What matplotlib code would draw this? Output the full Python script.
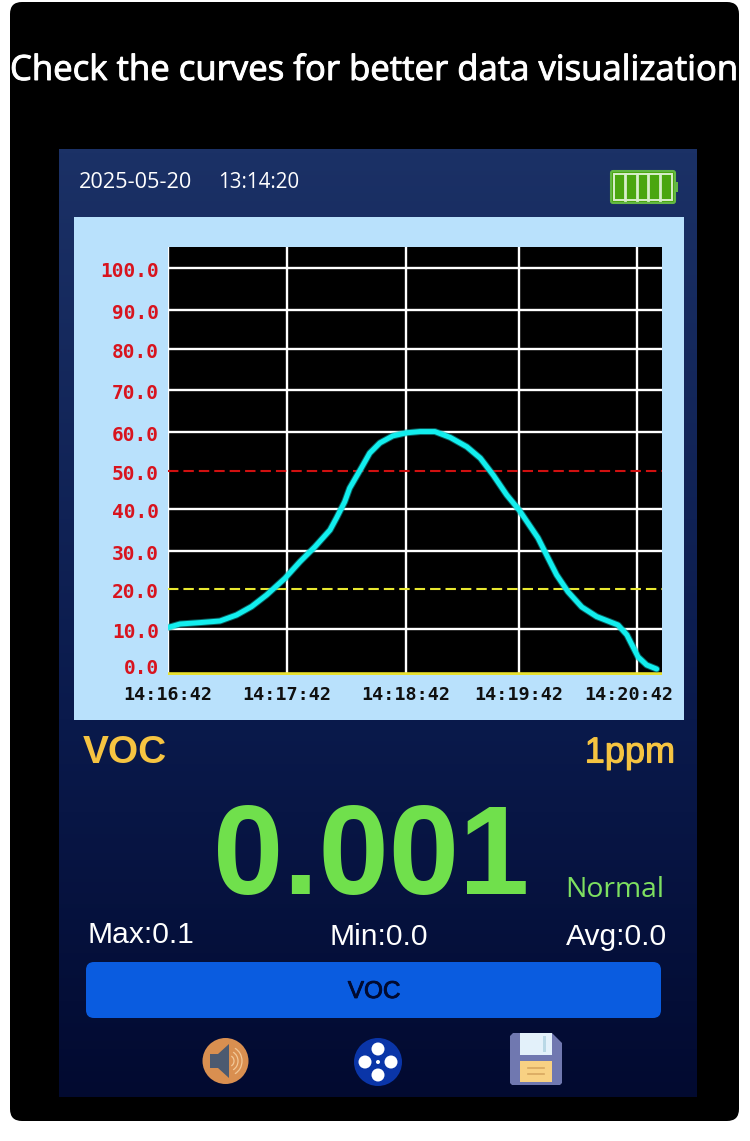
"""VOC meter screen with a concentration curve."""

import matplotlib
matplotlib.use("Agg")
import matplotlib.pyplot as plt
import matplotlib.patheffects as pe
import numpy as np
from matplotlib.patches import Circle, FancyBboxPatch, Polygon, Rectangle, Arc
from matplotlib.transforms import ScaledTranslation

W, H = 750, 1141

# curve
TIME_S = [0.15, 6.1, 16.2, 26.3, 34.7, 42.3, 49.9, 59.2, 66.8, 74.3, 81.9, 85.2, 89.3,
          91.8, 97.7, 101.9, 107, 113.5, 120.5, 127.7, 135.5, 143.6, 152.4, 159.5,
          166.4, 173.5, 180, 189.7, 194.1, 199.2, 205, 212, 219.6, 230.5, 235,
          240.7, 245.1, 250.2]
VOC = [10.4, 11.25, 11.6, 12, 13.5, 15.6, 18.5, 22.8, 27.2, 31, 35, 37.9, 41.9,
       45.5, 50.8, 54.6, 57.2, 59, 59.8, 60.1, 60.1, 58.6, 56.2, 53.3,
       48.9, 43.7, 39.8, 33.1, 28.9, 23.7, 19.3, 15.5, 13.1, 11, 8.7,
       3.8, 2, 1.1]

Y_TICKS = [0, 10, 20, 30, 40, 50, 60, 70, 80, 90, 100]
Y_LABELS = ["0.0", "10.0", "20.0", "30.0", "40.0", "50.0", "60.0", "70.0", "80.0", "90.0", "100.0"]
X_TICKS = [0, 60, 120, 180, 240]
X_LABELS = ["14:16:42", "14:17:42", "14:18:42", "14:19:42", "14:20:42"]
ALARM_HIGH = 50
ALARM_LOW = 20

# the screen's axes are not evenly spaced, so map values to pixel rows and columns
Y_SCALE_VALUES = [-0.2, 0, 10, 20, 30, 40, 50, 60, 70, 80, 90, 100, 105]
Y_SCALE_PIXELS = [675, 674, 629, 589, 551, 509, 471, 432, 390, 349, 310, 268, 247]
X_SCALE_VALUES = [0, 60, 120, 180, 240, 252.7]
X_SCALE_PIXELS = [168, 286.5, 405.7, 519, 636.7, 661.6]

SANS = "Liberation Sans"
HUMAN = "Open Sans"
MONO = "DejaVu Sans Mono"


def y_forward(v):
    return -np.interp(v, Y_SCALE_VALUES, Y_SCALE_PIXELS)


def y_inverse(p):
    return np.interp(-np.asarray(p), Y_SCALE_PIXELS[::-1], Y_SCALE_VALUES[::-1])


def x_forward(v):
    return np.interp(v, X_SCALE_VALUES, X_SCALE_PIXELS)


def x_inverse(p):
    return np.interp(p, X_SCALE_PIXELS, X_SCALE_VALUES)


def rounded(ax, x0, y0, x1, y1, r, **kw):
    ax.add_patch(FancyBboxPatch((x0 + r, y0 + r), x1 - x0 - 2 * r, y1 - y0 - 2 * r,
                                boxstyle=f"round,pad={r},rounding_size={r}", **kw))


def heavier(text, width, color):
    text.set_path_effects([pe.withStroke(linewidth=width, foreground=color, joinstyle="miter")])


def draw_screen(bg):
    rounded(bg, 10, 2, 739, 1121, 12, fc="black", ec="none", zorder=1)
    title = bg.text(374.5, 71, "Check the curves for better data visualization", color="white",
                    fontsize=25, family=HUMAN, ha="center", va="center", zorder=3)
    heavier(title, 0.7, "white")

    grad = np.linspace(0, 1, 256)[:, None, None]
    top = np.array([0x1b, 0x31, 0x66]) / 255
    mid = np.array([0x0a, 0x1a, 0x4c]) / 255
    low = np.array([0x02, 0x0a, 0x30]) / 255
    img = np.where(grad < 0.6, top + (mid - top) * grad / 0.6, mid + (low - mid) * (grad - 0.6) / 0.4)
    bg.imshow(img, extent=(59, 697, 1097, 149), aspect="auto", zorder=2)
    bg.set_xlim(0, W)
    bg.set_ylim(H, 0)

    bg.text(79, 182, "2025-05-20", color="white", fontsize=15.6, family=HUMAN, va="center", zorder=3)
    bg.text(218, 182, "13:14:20", color="white", fontsize=14.8, family=HUMAN, va="center", zorder=3)

    # battery
    rounded(bg, 611, 171, 675, 203, 2, fc="#4aa60f", ec="#63b844", lw=1.5, zorder=3)
    bg.add_patch(Rectangle((675, 182), 3, 10, fc="#63b844", ec="none", zorder=3))
    bg.add_patch(Rectangle((614, 174), 58, 26, fc="none", ec="#d8eecb", lw=1.4, zorder=4))
    for x in (625, 637, 648, 660):
        bg.plot([x, x], [174, 200], color="#d8eecb", lw=2, zorder=4)

    bg.add_patch(Rectangle((74, 217), 610, 503, fc="#b9e1fc", ec="none", zorder=3))

    bg.text(83, 753, "VOC", color="#f6c441", fontsize=28, family=SANS, weight="bold", va="center", zorder=3)
    unit = bg.text(675, 753, "1ppm", color="#f6c441", fontsize=26, family=SANS, ha="right", va="center",
                   zorder=3)
    heavier(unit, 0.8, "#f6c441")
    bg.text(371, 894, "0.001", color="#70e04c", fontsize=91, family=SANS, weight="bold", ha="center",
            va="baseline", zorder=3)
    bg.text(565, 897, "Normal", color="#7ee060", fontsize=20.4, family=HUMAN, va="baseline", zorder=3)
    bg.text(87, 935, "Max:0.1", color="white", fontsize=21.6, family=SANS, va="center", zorder=3)
    bg.text(379, 937, "Min:0.0", color="white", fontsize=21.6, family=SANS, ha="center", va="center", zorder=3)
    bg.text(667, 937, "Avg:0.0", color="white", fontsize=21.6, family=SANS, ha="right", va="center", zorder=3)

    rounded(bg, 86, 962, 661, 1018, 8, fc="#0a5ce0", ec="none", zorder=3)
    label = bg.text(374, 992, "VOC", color="#010a30", fontsize=17.5, family=SANS, ha="center", va="center",
                    zorder=4)
    heavier(label, 0.6, "#010a30")

    # speaker icon
    bg.add_patch(Circle((225.5, 1061), 23, fc="#d98f50", ec="none", zorder=3))
    bg.add_patch(Polygon([(210, 1054), (218, 1054), (229, 1044), (229, 1078), (218, 1068), (210, 1068)],
                         fc="#4c5a70", ec="none", zorder=4))
    for d in (10, 18, 26):
        bg.add_patch(Arc((229, 1061), d, d * 1.1, theta1=-65, theta2=65, ec="#f2c898", lw=0.9, zorder=4))

    # menu icon
    bg.add_patch(Circle((378, 1062), 24, fc="#0a35a8", ec="none", zorder=3))
    for dx, dy in ((0, -13), (0, 13), (-13, 0), (13, 0)):
        bg.add_patch(Circle((378 + dx, 1062 + dy), 6.5, fc="white", ec="none", zorder=4))
    bg.add_patch(Circle((378, 1062), 2, fc="white", ec="none", zorder=4))

    # floppy icon
    bg.add_patch(Polygon([(510, 1036), (513, 1033), (552, 1033), (562, 1043), (562, 1083), (560, 1085),
                          (512, 1085), (510, 1083)], fc="#7078b0", ec="none", zorder=3))
    bg.add_patch(Rectangle((520, 1033), 32, 22, fc="#e3f1fa", ec="none", zorder=4))
    bg.add_patch(Rectangle((543, 1036), 3, 16, fc="#b9d8e6", ec="none", zorder=5))
    bg.add_patch(Rectangle((520, 1061), 32, 21, fc="#f8d183", ec="none", zorder=4))
    bg.plot([528, 544], [1068, 1068], color="#d8a860", lw=1.2, zorder=5)
    bg.plot([528, 544], [1074, 1074], color="#d8a860", lw=1.2, zorder=5)


def draw_chart(fig):
    left, right = X_SCALE_PIXELS[0], X_SCALE_PIXELS[-1]
    top, bottom = Y_SCALE_PIXELS[-1], Y_SCALE_PIXELS[0]
    ax = fig.add_axes([left / W, 1 - bottom / H, (right - left) / W, (bottom - top) / H])
    ax.set_facecolor("black")
    ax.set_xscale("function", functions=(x_forward, x_inverse))
    ax.set_yscale("function", functions=(y_forward, y_inverse))
    ax.set_xlim(X_SCALE_VALUES[0], X_SCALE_VALUES[-1])
    ax.set_ylim(Y_SCALE_VALUES[0], Y_SCALE_VALUES[-1])

    ax.set_xticks(X_TICKS, X_LABELS)
    ax.set_yticks(Y_TICKS, Y_LABELS)
    ax.minorticks_off()
    ax.tick_params(length=0)
    ax.tick_params(axis="x", pad=8, labelsize=13.3, labelcolor="#101010")
    ax.tick_params(axis="y", pad=6.5, labelsize=14, labelcolor="#d8141e")
    for label in ax.get_xticklabels() + ax.get_yticklabels():
        label.set_family(MONO)
        label.set_weight("bold")
    ax.grid(color="white", lw=1.7, zorder=1)
    ax.set_axisbelow(True)
    for spine in ax.spines.values():
        spine.set_visible(False)

    # alarm levels replace their grid lines
    for tick, line in zip(Y_TICKS, ax.yaxis.get_gridlines()):
        if tick in (0, ALARM_LOW, ALARM_HIGH):
            line.set_visible(False)

    # end labels sit off their grid lines on the device
    last = ax.get_xticklabels()[-1]
    last.set_transform(last.get_transform() + ScaledTranslation(-8 / 100, 0, fig.dpi_scale_trans))
    for label in ax.get_yticklabels():
        label.set_transform(label.get_transform() + ScaledTranslation(0, -1.5 / 100, fig.dpi_scale_trans))
    zero = ax.get_yticklabels()[0]
    zero.set_transform(zero.get_transform() + ScaledTranslation(0, 9 / 100, fig.dpi_scale_trans))

    ax.axhline(ALARM_HIGH, color="#d01010", lw=1.5, dashes=(5, 2.4), zorder=2)
    ax.axhline(ALARM_LOW, color="#e8e830", lw=1.5, dashes=(5, 2.4), zorder=2)
    ax.axhline(0, color="#e8e030", lw=2.6, zorder=2)
    ax.plot(TIME_S, VOC, color="#0fa8a8", lw=5, alpha=0.55, solid_joinstyle="round", solid_capstyle="round", zorder=3)
    ax.plot(TIME_S, VOC, color="#12eeee", lw=3.6, solid_joinstyle="round", solid_capstyle="round", zorder=3)


def main():
    fig = plt.figure(figsize=(W / 100, H / 100), dpi=100, facecolor="white")
    bg = fig.add_axes([0, 0, 1, 1])
    bg.set_xlim(0, W)
    bg.set_ylim(H, 0)
    bg.axis("off")
    draw_screen(bg)
    draw_chart(fig)
    fig.savefig("out.png", dpi=100, facecolor="white")


main()
